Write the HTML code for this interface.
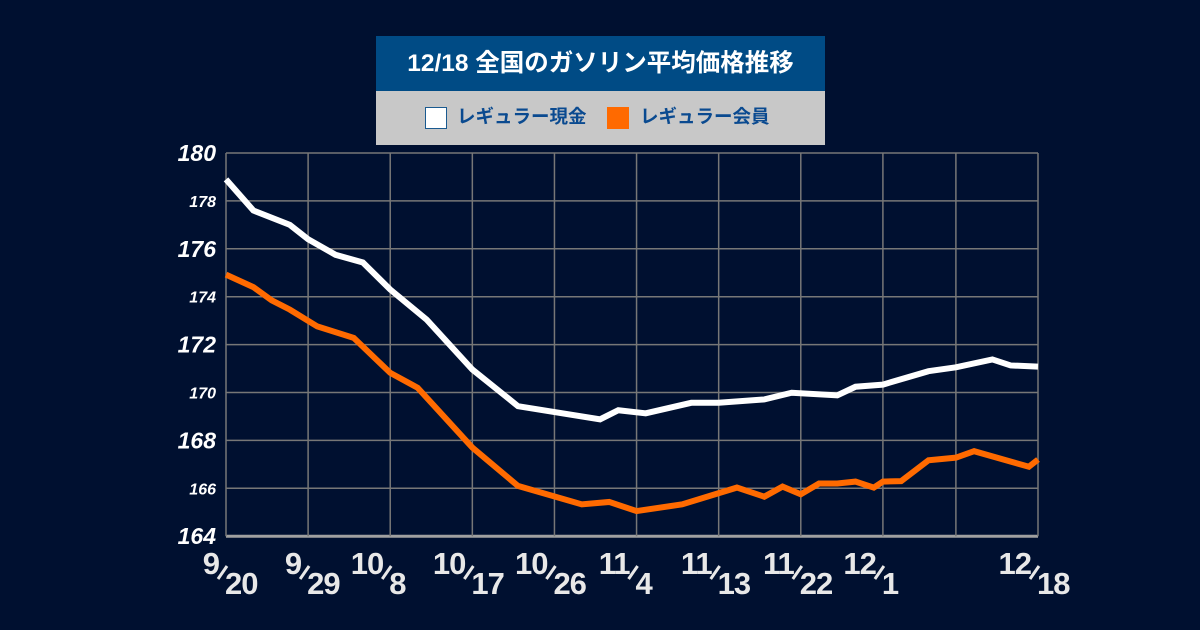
<!DOCTYPE html>
<html><head><meta charset="utf-8"><style>
html,body{margin:0;padding:0;background:#001030;}
#wrap{position:relative;width:1200px;height:630px;background:#001030;overflow:hidden;font-family:"Liberation Sans","Noto Sans CJK JP",sans-serif;}
#title{position:absolute;left:376px;top:36px;width:449px;height:55px;background:#004b85;color:#fff;font-weight:bold;font-size:24.5px;line-height:55px;text-align:center;white-space:nowrap;}
#legend{position:absolute;left:376px;top:91px;width:449px;height:54px;background:#c8c8c8;}
.lg{position:absolute;top:14px;font-size:18.5px;font-weight:bold;color:#0a4a90;line-height:24px;white-space:nowrap;}
.sw{position:absolute;top:16px;width:22px;height:22px;box-sizing:border-box;}
</style></head><body>
<div id="wrap">
<div id="title">12/18 全国のガソリン平均価格推移</div>
<div id="legend">
 <div class="sw" style="left:49px;background:#fff;border:1.5px solid #1a5a90;"></div>
 <div class="lg" style="left:81px;">レギュラー現金</div>
 <div class="sw" style="left:231px;background:#ff6a00;"></div>
 <div class="lg" style="left:264px;">レギュラー会員</div>
</div>
<svg id="chart" width="1200" height="630" style="position:absolute;left:0;top:0"></svg>
</div>
<script>
const yTicks=[164,166,168,170,172,174,176,178,180];
const xTickDays=[0,9,18,27,36,45,54,63,72,80,89];
const xTickMonths=["9","9","10","10","10","11","11","11","12","","12"];
const xTickDaysLbl=["20","29","8","17","26","4","13","22","1","","18"];
const cashDays=[0,3,7,9,12,15,18,22,27,32,41,43,46,51,54,59,62,67,69,72,77,80,84,86,89];
const cashVals=[178.9,177.6,177.0,176.4,175.75,175.43,174.3,173.04,170.96,169.43,168.88,169.26,169.13,169.57,169.57,169.71,169.99,169.88,170.24,170.33,170.89,171.05,171.38,171.13,171.08];
const memDays=[0,3,5,7,10,14,18,21,27,32,39,42,45,50,56,59,61,63,65,67,69,71,72,74,77,80,82,88,89];
const memVals=[174.92,174.4,173.85,173.46,172.76,172.28,170.82,170.2,167.7,166.1,165.33,165.43,165.05,165.33,166.03,165.65,166.07,165.75,166.2,166.2,166.28,166.03,166.28,166.3,167.17,167.28,167.55,166.9,167.2];

const NS="http://www.w3.org/2000/svg";
const svg=document.getElementById('chart');
const X0=226,X1=1038,Y0=153;
function x(d){return X0+d*(X1-X0)/89;}
function y(v){return Y0+(180-v)*23.95;}
function mk(tag,attrs,parent){const e=document.createElementNS(NS,tag);for(const k in attrs)e.setAttribute(k,attrs[k]);(parent||svg).appendChild(e);return e;}

yTicks.forEach((v,i)=>{
  const l=mk('line',{x1:X0,x2:X1,y1:y(v),y2:y(v),stroke:v===164?'#a0a0a0':'#777',"stroke-width":v===164?3:1.5});
  
  
  const big=(v%4===0);
  const t=mk('text',{x:216,y:y(v)+(big?8:6),"text-anchor":"end",fill:'#fff',"font-size":big?23:16,"font-weight":"bold","font-style":"italic","font-family":"Liberation Sans, sans-serif"});
  t.textContent=v;
  
  
});
xTickDays.forEach((d,i)=>{
  const l=mk('line',{x1:x(d),x2:x(d),y1:Y0,y2:y(164),stroke:'#777',"stroke-width":1.5});
  
  
  if(!xTickMonths[i])return;
  const cx=x(d)-4;
  const g=mk('g',{fill:'#e8e8e8',"font-weight":"bold","font-family":"Liberation Sans, sans-serif"});
  
  
  const m=mk('text',{x:cx-3,y:574,"text-anchor":"end","font-size":31,"letter-spacing":"-1"},g);m.textContent=xTickMonths[i];
  mk('line',{x1:cx-4,y1:579,x2:cx+5,y2:566,stroke:'#e8e8e8',"stroke-width":3},g);
  const dd=mk('text',{x:cx+3,y:594,"text-anchor":"start","font-size":31,"letter-spacing":"-1"},g);dd.textContent=xTickDaysLbl[i];
});
function series(days,vals,color,name){
  const p=mk('polyline',{points:days.map((d,i)=>x(d)+','+y(vals[i])).join(' '),fill:'none',stroke:color,"stroke-width":6,"stroke-linejoin":"miter"});
  
  
}
series(cashDays,cashVals,'#ffffff','cash-price-line');
series(memDays,memVals,'#ff6a00','member-price-line');
</script>
</body></html>
